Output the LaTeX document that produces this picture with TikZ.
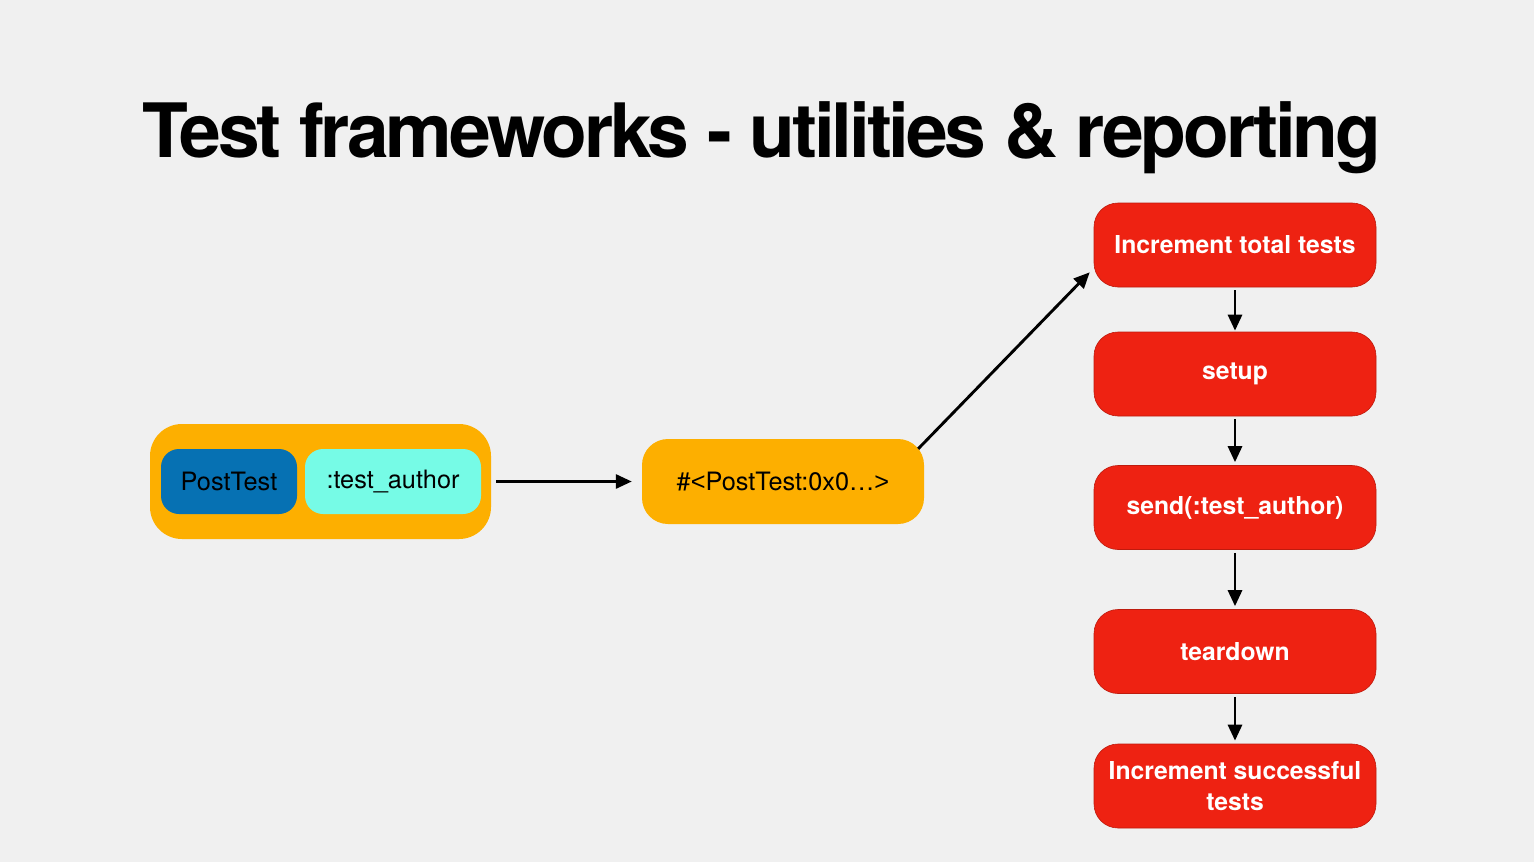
\documentclass[tikz,border=0pt]{standalone}
\usepackage{fontspec}
\setmainfont{TeX Gyre Heros}
\newfontfamily\titlefont[LetterSpace=-4.3]{TeX Gyre Heros}
\newfontfamily\libfont{Liberation Sans}
\usetikzlibrary{arrows.meta,calc}
\definecolor{bgc}{HTML}{F0F0F0}
\definecolor{orng}{HTML}{FDAF00}
\definecolor{dblue}{HTML}{0671B3}
\definecolor{cyanc}{HTML}{76FBE6}
\definecolor{redc}{HTML}{EE2212}
\tikzset{
  box/.style={rectangle, rounded corners=#1, inner sep=0pt, align=center},
  redbox/.style={box=24pt, fill=redc, draw=redc!80!black, line width=0.6pt,
    minimum width=282pt, minimum height=84pt, text=white,
    font=\fontsize{24.7}{31}\selectfont\bfseries},
  blk/.style={text=black, font=\fontsize{25.3}{30}\selectfont},
  arr/.style={line width=2.9pt, -{Triangle[length=16pt,width=14pt]}},
}
\begin{document}
\begin{tikzpicture}[x=1pt,y=-1pt]
\path[use as bounding box, fill=bgc] (0,0) rectangle (1534,862);
\node[anchor=base west, inner sep=0pt, font=\titlefont\fontsize{75}{80}\selectfont\bfseries] (title) at (142,157) {Test frameworks - utilities \& reporting};

% class + method group
\node[box=32pt, fill=orng, minimum width=341pt, minimum height=115pt] (grp) at (320.5,481.5) {};
\node[box=18pt, fill=dblue, minimum width=136pt, minimum height=65pt, blk] (cls) at (229,481.5) {PostTest};
\node[box=18pt, fill=cyanc, minimum width=176pt, minimum height=65pt, blk] (meth) at (393,481.5) {:test\_author};

% instance
\node[box=26pt, fill=orng, minimum width=282pt, minimum height=85pt, blk] (inst) at (783,481.5) {\#{\libfont<}PostTest:0x0…{\libfont>}};

% steps
\node[redbox] (s1) at (1235,245) {Increment total tests};
\node[redbox] (s2) at (1235,374) {setup};
\node[redbox] (s3) at (1235,507.5) {send(:test\_author)};
\node[redbox] (s4) at (1235,651.5) {teardown};
\node[redbox] (s5) at (1235,786) {Increment successful\\tests};

\draw[arr] ($(grp.east)+(5,0)$) -- ($(inst.west)+(-10,0)$);
\draw[arr] ($(inst.north east)+(-6,10)$) -- ($(s1.south west)+(-4,-15)$);
\draw[arr] ($(s1.south)+(0,3)$) -- ($(s2.north)+(0,-1)$);
\draw[arr] ($(s2.south)+(0,3)$) -- ($(s3.north)+(0,-3)$);
\draw[arr] ($(s3.south)+(0,3)$) -- ($(s4.north)+(0,-3)$);
\draw[arr] ($(s4.south)+(0,3)$) -- ($(s5.north)+(0,-3)$);
\end{tikzpicture}
\end{document}
